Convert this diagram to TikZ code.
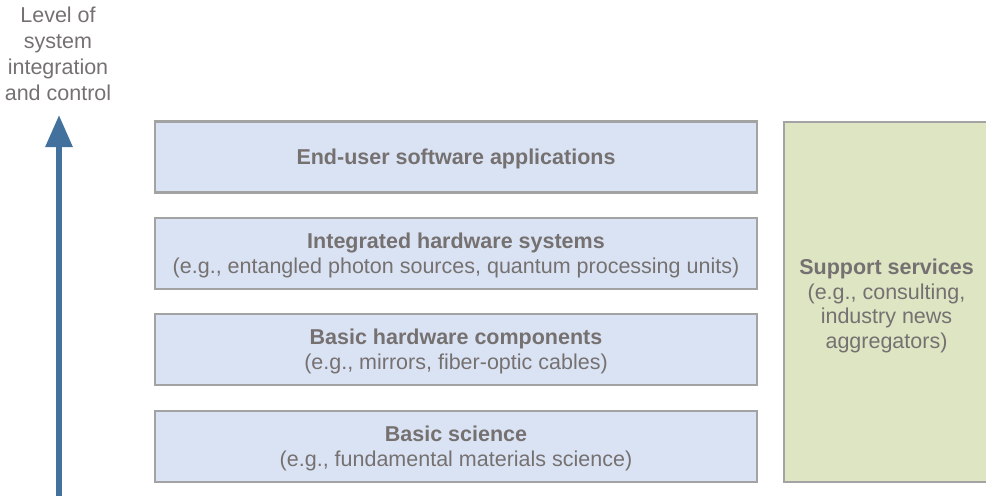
\documentclass[tikz,border=0pt]{standalone}
\usepackage{fontspec}
\setmainfont{Liberation Sans}
\usetikzlibrary{arrows.meta}
\definecolor{layerfill}{HTML}{DAE3F3}
\definecolor{supportfill}{HTML}{DDE5C3}
\definecolor{edgegray}{HTML}{A3A3A3}
\definecolor{textgray}{HTML}{767171}
\definecolor{axisblue}{HTML}{41719C}
\tikzset{
  layer/.style={draw=edgegray, line width=2.4pt, fill=layerfill,
    minimum width=602pt, minimum height=71pt, inner sep=0pt},
  support/.style={draw=edgegray, line width=2.4pt, fill=supportfill,
    minimum width=205pt, minimum height=360pt, inner sep=0pt},
  txt/.style={align=center, text=textgray, inner sep=0pt,
    font=\fontsize{21.5}{24.5}\selectfont},
  axis/.style={draw=axisblue, line width=6pt,
    -{Triangle[length=32pt,width=26pt]}}
}
\begin{document}
\begin{tikzpicture}[x=1pt,y=-1pt]
  \useasboundingbox (0,0) rectangle (986,496);

  % vertical axis and its caption
  \node[txt, font=\fontsize{21.5}{26}\selectfont] (axislabel) at (58,53.5)
    {Level of\\system\\integration\\and control};
  \coordinate (axisbottom) at (59,496);
  \coordinate (axistop) at (59,115);
  \draw[axis] (axisbottom) -- (axistop);

  % stacked layers, bottom to top
  \node[layer] (science) at (456,446.5) {};
  \node[layer] (components) at (456,349.5) {};
  \node[layer] (systems) at (456,253.5) {};
  \node[layer] (software) at (456,157) {};

  \node[txt] (sciencetext) at ([yshift=-2pt]science.center)
    {\textbf{Basic science}\\(e.g., fundamental materials science)};
  \node[txt] (componentstext) at ([yshift=-2pt]components.center)
    {\textbf{Basic hardware components}\\(e.g., mirrors, fiber-optic cables)};
  \node[txt] (systemstext) at ([yshift=-2pt]systems.center)
    {\textbf{Integrated hardware systems}\\(e.g., entangled photon sources, quantum processing units)};
  \node[txt] (softwaretext) at ([yshift=-1.5pt]software.center)
    {\textbf{End-user software applications}};

  % support services column
  \node[support] (support) at (886.5,302) {};
  \node[txt] (supporttext) at ([yshift=-4pt]support.center)
    {\textbf{Support services}\\(e.g., consulting,\\industry news\\aggregators)};
\end{tikzpicture}
\end{document}
